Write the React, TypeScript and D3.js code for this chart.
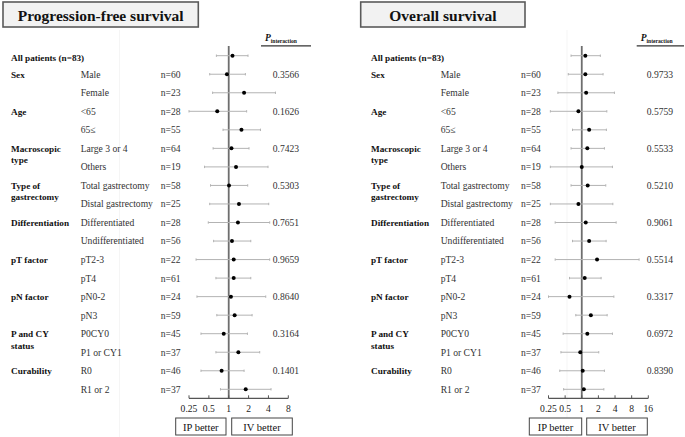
import React from "react";
import * as d3 from "d3";

const groupLabels = [
  ["All patients (n=83)"], ["Sex"], [], ["Age"], [], ["Macroscopic", "type"], [],
  ["Type of", "gastrectomy"], [], ["Differentiation"], [], ["pT factor"], [],
  ["pN factor"], [], ["P and CY", "status"], [], ["Curability"], [],
];
const subgroups = ["", "Male", "Female", "<65", "65≤", "Large 3 or 4", "Others", "Total gastrectomy",
  "Distal gastrectomy", "Differentiated", "Undifferentiated", "pT2-3", "pT4", "pN0-2", "pN3",
  "P0CY0", "P1 or CY1", "R0", "R1 or 2"];
const nLabels = ["", "n=60", "n=23", "n=28", "n=55", "n=64", "n=19", "n=58", "n=25", "n=28", "n=56",
  "n=22", "n=61", "n=24", "n=59", "n=45", "n=37", "n=46", "n=37"];

const pfsHR = [1.14, 0.94, 1.71, 0.67, 1.56, 1.10, 1.29, 1.01, 1.43, 1.38, 1.12, 1.19, 1.19, 1.08, 1.23, 0.84, 1.40, 0.78, 1.81];
const pfsLo = [0.65, 0.515, 0.57, 0.25, 0.82, 0.58, 0.43, 0.53, 0.515, 0.49, 0.59, 0.32, 0.64, 0.33, 0.66, 0.38, 0.64, 0.38, 0.75];
const pfsHi = [1.96, 1.79, 5.11, 1.87, 3.03, 2.03, 3.94, 1.94, 4.04, 4.18, 2.16, 4.18, 2.16, 3.64, 2.26, 1.92, 2.95, 1.71, 4.38];
const pfsP = ["", "0.3566", "", "0.1626", "", "0.7423", "", "0.5303", "", "0.7651", "", "0.9659", "", "0.8640", "", "0.3164", "", "0.1401", ""];

const osHR = [1.16, 1.16, 1.20, 0.87, 1.36, 1.26, 1.00, 1.28, 0.87, 1.18, 1.36, 1.89, 1.13, 0.60, 1.46, 1.26, 0.94, 1.04, 1.09];
const osLo = [0.64, 0.57, 0.37, 0.27, 0.68, 0.64, 0.27, 0.64, 0.27, 0.33, 0.68, 0.33, 0.60, 0.25, 0.78, 0.46, 0.42, 0.40, 0.47];
const osHi = [2.17, 2.43, 3.90, 2.84, 2.79, 2.57, 3.59, 2.72, 3.65, 4.19, 2.76, 10.9, 2.24, 3.81, 2.88, 3.59, 2.03, 2.57, 2.51];
const osP = ["", "0.9733", "", "0.5759", "", "0.5533", "", "0.5210", "", "0.9061", "", "0.5514", "", "0.3317", "", "0.6972", "", "0.8390", ""];

const pfsTicks = [0.25, 0.5, 1, 2, 4, 8];
const osTicks = [0.25, 0.5, 1, 2, 4, 8, 16];

const FONT = "'Liberation Serif', 'Times New Roman', serif";

const rowY = d3.scaleLinear().domain([0, 18]).range([55.7, 389.3]);

type PanelProps = {
  title: string;
  titleBox: [number, number];
  hr: number[]; lo: number[]; hi: number[]; p: string[];
  ticks: number[];
  xRange: [number, number];
  cols: { group: number; sub: number; n: number; p: number };
  pHeader: [number, number];
  boxes: [number, number, number, number];
  faintX: number;
};

function Panel(props: PanelProps) {
  const { title, titleBox, hr, lo, hi, p, ticks, xRange, cols, pHeader, boxes, faintX } = props;
  const x = d3.scaleLog().base(2).domain([ticks[0], ticks[ticks.length - 1]]).range(xRange);
  const axisY = 398.3;
  const fs = 9.6;
  return (
    <g>
      <line x1={faintX} x2={faintX} y1={30} y2={437} stroke="#f5f5f5" strokeWidth={1} />
      <rect x={titleBox[0]} y={2} width={titleBox[1] - titleBox[0]} height={25} fill="#f2f2f2" stroke="#5a5a5a" strokeWidth={1.6} />
      <text x={(titleBox[0] + titleBox[1]) / 2} y={20.5} textAnchor="middle" fontFamily={FONT} fontWeight="bold" fontSize={15.5} fill="#111">{title}</text>
      {/* P interaction header */}
      <text x={pHeader[0] + 4} y={41} fontFamily={FONT} fontWeight="bold" fontSize={9.5} fill="#111">
        <tspan fontStyle="italic">P</tspan>
        <tspan fontSize={5.6} dy={1.5}>interaction</tspan>
      </text>
      <line x1={pHeader[0]} x2={pHeader[1]} y1={45.8} y2={45.8} stroke="#333" strokeWidth={1.2} />
      {/* reference line */}
      <line x1={x(1)} x2={x(1)} y1={46} y2={axisY} stroke="#6e6e6e" strokeWidth={1.8} />
      {/* rows */}
      {subgroups.map((s, i) => {
        const y = rowY(i);
        return (
          <g key={i}>
            {groupLabels[i].map((g, j) => (
              <text key={j} x={cols.group} y={y + 3.4 + j * 11.5 + (i === 0 ? 2 : 0)} fontFamily={FONT} fontWeight="bold" fontSize={9.2} fill="#111">{g}</text>
            ))}
            {s && <text x={cols.sub} y={y + 3.4} fontFamily={FONT} fontSize={fs} fill="#333">{s}</text>}
            {nLabels[i] && <text x={cols.n} y={y + 3.4} fontFamily={FONT} fontSize={fs} fill="#333">{nLabels[i]}</text>}
            {p[i] && <text x={cols.p} y={y + 3.4} fontFamily={FONT} fontSize={fs} fill="#333">{p[i]}</text>}
            <line x1={x(lo[i])} x2={x(hi[i])} y1={y} y2={y} stroke="#b3b3b3" strokeWidth={1} />
            <line x1={x(lo[i])} x2={x(lo[i])} y1={y - 1.2} y2={y + 1.2} stroke="#b3b3b3" strokeWidth={1} />
            <line x1={x(hi[i])} x2={x(hi[i])} y1={y - 1.2} y2={y + 1.2} stroke="#b3b3b3" strokeWidth={1} />
            <circle cx={x(hr[i])} cy={y} r={2} fill="#000" />
          </g>
        );
      })}
      {/* axis */}
      <line x1={xRange[0]} x2={xRange[1]} y1={axisY} y2={axisY} stroke="#555" strokeWidth={1.2} />
      {ticks.map((t) => (
        <g key={t}>
          <line x1={x(t)} x2={x(t)} y1={axisY} y2={axisY - 3} stroke="#555" strokeWidth={1} />
          <text x={x(t)} y={412} textAnchor="middle" fontFamily={FONT} fontSize={fs} fill="#222">{String(t)}</text>
        </g>
      ))}
      {/* better boxes */}
      <rect x={boxes[0]} y={418} width={boxes[1] - boxes[0]} height={17} fill="#fff" stroke="#444" strokeWidth={1} />
      <text x={(boxes[0] + boxes[1]) / 2} y={430.5} textAnchor="middle" fontFamily={FONT} fontSize={10.5} fill="#111">IP better</text>
      <rect x={boxes[2]} y={418} width={boxes[3] - boxes[2]} height={17} fill="#fff" stroke="#444" strokeWidth={1} />
      <text x={(boxes[2] + boxes[3]) / 2} y={430.5} textAnchor="middle" fontFamily={FONT} fontSize={10.5} fill="#111">IV better</text>
    </g>
  );
}

export default function App() {
  return (
    <svg width={685} height={437} style={{ position: "absolute", left: 0, top: 0, display: "block", background: "#fff" }}>
      <rect x={0} y={0} width={685} height={437} fill="#fff" />
      <Panel
        title="Progression-free survival"
        titleBox={[3, 198.3]}
        hr={pfsHR} lo={pfsLo} hi={pfsHi} p={pfsP}
        ticks={pfsTicks}
        xRange={[189, 288.3]}
        cols={{ group: 11, sub: 80.7, n: 160.7, p: 272.7 }}
        pHeader={[261, 311]}
        boxes={[175.7, 226, 231.7, 292.3]}
        faintX={119.5}
      />
      <Panel
        title="Overall survival"
        titleBox={[360.7, 525]}
        hr={osHR} lo={osLo} hi={osHi} p={osP}
        ticks={osTicks}
        xRange={[548.5, 648.3]}
        cols={{ group: 371, sub: 440.7, n: 521, p: 646.7 }}
        pHeader={[636.7, 684]}
        boxes={[529.3, 581.7, 586.7, 647.3]}
        faintX={567}
      />
    </svg>
  );
}
